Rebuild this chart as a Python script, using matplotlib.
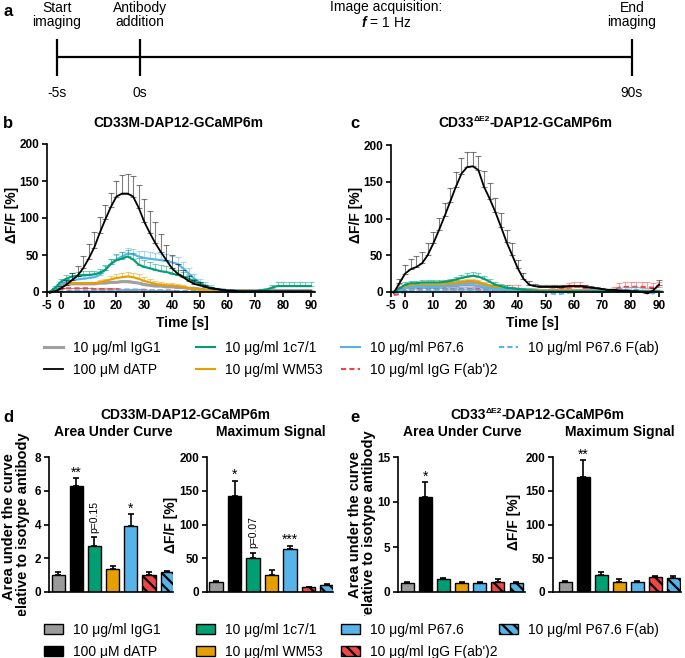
import numpy as np
import matplotlib
matplotlib.use('Agg')
import matplotlib.pyplot as plt
from matplotlib.lines import Line2D
from matplotlib.patches import Patch
from matplotlib.transforms import Bbox

plt.rcParams['font.family'] = ['Liberation Sans', 'DejaVu Sans']
plt.rcParams['font.weight'] = 'bold'
plt.rcParams['hatch.linewidth'] = 1.6
plt.rcParams['axes.unicode_minus'] = False
plt.rcParams['mathtext.fontset'] = 'custom'
plt.rcParams['mathtext.rm'] = 'Liberation Sans'
plt.rcParams['mathtext.bf'] = 'Liberation Sans:bold'
plt.rcParams['mathtext.it'] = 'Liberation Sans:italic'

# ---- data -------------------------------------------------------------
t = np.arange(-4, 91, 2)   # frame times [s]

keys = ['igg1', 'datp', 'c71', 'wm53', 'p676', 'fab2', 'p676fab']
labels = ['10 μg/ml IgG1', '100 μM dATP', '10 μg/ml 1c7/1', '10 μg/ml WM53',
          '10 μg/ml P67.6', "10 μg/ml IgG F(ab')2", '10 μg/ml P67.6 F(ab)']
colors = ['#9a9a9a', '#000000', '#009E73', '#E69F00', '#56B4E9', '#F04646', '#56B4E9']
hatches = [None, None, None, None, None, '\\\\\\', '\\\\\\']

# panel b : CD33M
b_datp = [-1, 1, 5, 10, 16, 22, 32, 45, 60, 80, 98, 115, 129, 133, 133, 129, 114, 95, 80, 66,
          54, 43, 32, 25, 20, 15, 11, 9, 7, 5, 4, 3, 2, 2, 1, 1, 1, 1, 1, 1, 1, 1, 1, 1, 1, 1, 1, 1]
b_datp_err = [1, 2, 3, 6, 10, 13, 16, 20, 21, 21, 20, 19, 21, 25, 27, 28, 30, 31, 30, 28,
              25, 21, 18, 13, 10, 7, 5, 4, 3, 2, 2, 1, 1, 1, 1, 1, 1, 1, 1, 1, 1, 1, 1, 1, 1, 1, 1, 1]
b_c71 = [0, 6, 14, 18, 21, 22, 23, 23, 24, 26, 30, 38, 43, 45, 48, 44, 37, 34, 32, 30,
         28, 27, 25, 23, 21, 18, 14, 11, 8, 5, 4, 2, 2, 1, 1, 1, 1, 1, 2, 3, 6, 8, 8, 8, 8, 8, 8, 8]
b_c71_err = [1, 2, 4, 5, 5, 5, 5, 5, 5, 5, 6, 7, 8, 9, 9, 9, 9, 9, 9, 8,
             8, 8, 7, 7, 6, 5, 4, 3, 2, 2, 1, 1, 1, 1, 1, 1, 1, 1, 2, 3, 4, 5, 5, 5, 5, 5, 5, 5]
b_p676 = [0, 4, 10, 14, 16, 17, 18, 19, 20, 23, 30, 38, 44, 48, 52, 51, 48, 46, 45, 44,
          43, 42, 40, 38, 32, 25, 18, 13, 9, 6, 4, 3, 2, 2, 2, 1, 1, 1, 1, 1, 1, 1, 1, 1, 1, 1, 1, 1]
b_p676_err = [1, 2, 3, 3, 4, 4, 4, 4, 4, 5, 5, 6, 6, 6, 7, 7, 8, 9, 9, 9,
              9, 9, 9, 9, 9, 8, 6, 5, 4, 3, 2, 2, 1, 1, 1, 1, 1, 1, 1, 1, 1, 1, 1, 1, 1, 1, 1, 1]
b_wm53 = [0, 5, 9, 11, 12, 12, 12, 12, 12, 13, 15, 17, 19, 20, 21, 20, 18, 15, 13, 11,
          10, 9, 9, 8, 7, 5, 4, 3, 3, 2, 2, 2, 2, 2, 2, 2, 1, 1, 1, 1, 1, 1, 1, 1, 1, 1, 1, 1]
b_wm53_err = [1, 1, 2, 2, 2, 2, 2, 2, 2, 3, 3, 4, 5, 6, 6, 6, 6, 5, 4, 4,
              3, 3, 3, 3, 3, 2, 2, 1, 1, 1, 1, 1, 1, 1, 1, 1, 1, 1, 1, 1, 1, 1, 1, 1, 1, 1, 1, 1]
b_igg1 = [0, 4, 8, 10, 11, 11, 11, 11, 11, 12, 12, 13, 13, 14, 14, 13, 12, 10, 9, 8,
          8, 7, 7, 6, 6, 5, 5, 4, 3, 3, 3, 2, 2, 2, 2, 2, 2, 2, 2, 2, 2, 2, 2, 2, 2, 2, 2, 2]
b_igg1_err = [1, 1, 1, 2, 2, 2, 2, 2, 2, 2, 2, 2, 2, 2, 2, 2, 2, 2, 2, 2,
              2, 2, 2, 2, 2, 1, 1, 1, 1, 1, 1, 1, 1, 1, 1, 1, 1, 1, 1, 1, 1, 1, 1, 1, 1, 1, 1, 1]
b_fab2 = [0, 2, 4, 5, 5, 5, 5, 5, 4, 4, 4, 4, 4, 3, 3, 3, 3, 3, 2, 2,
          2, 2, 2, 1, 1, 1, 1, 1, 1, 1, 0, 0, 0, 0, 0, 0, 0, 0, 0, 0, 0, 0, 0, 0, 0, 0, 0, 0]
b_fab2_err = [0, 1, 1, 1, 1, 1, 1, 1, 1, 1, 1, 1, 1, 1, 1, 1, 1, 1, 1, 1,
              1, 1, 1, 1, 1, 1, 1, 1, 1, 1, 1, 1, 1, 1, 1, 1, 1, 1, 1, 1, 1, 1, 1, 1, 1, 1, 1, 1]
b_p676fab = [0, 0, 1, 1, 2, 2, 2, 2, 2, 2, 2, 2, 2, 3, 3, 3, 3, 2, 2, 2,
             2, 2, 1, 1, 1, 1, 1, 1, 1, 1, 1, 1, 0, 0, 0, 0, 0, 0, 0, 0, 0, 0, 0, 0, 0, 0, 0, 0]
b_p676fab_err = [0, 1, 1, 1, 1, 1, 1, 1, 1, 1, 1, 1, 1, 1, 1, 1, 1, 1, 1, 1,
                 1, 1, 1, 1, 1, 1, 1, 1, 1, 1, 1, 1, 1, 1, 1, 1, 1, 1, 1, 1, 1, 1, 1, 1, 1, 1, 1, 1]

# panel c : CD33dE2
c_datp = [-1, 12, 25, 31, 34, 39, 50, 66, 84, 103, 123, 143, 161, 170, 171, 166, 143, 127, 109, 89,
          68, 50, 32, 18, 10, 8, 7, 7, 7, 7, 7, 8, 8, 8, 7, 6, 5, 4, 3, 3, 2, 2, 1, 1, 0, -2, 2, 10]
c_datp_err = [1, 6, 12, 14, 15, 16, 16, 16, 17, 18, 19, 20, 21, 20, 20, 19, 22, 21, 19, 18,
              17, 16, 12, 8, 5, 3, 2, 2, 2, 2, 2, 2, 2, 2, 2, 2, 2, 2, 1, 1, 1, 1, 1, 1, 1, 2, 3, 6]
c_c71 = [0, 5, 10, 12, 12, 13, 13, 13, 13, 14, 15, 17, 19, 21, 22, 21, 18, 14, 10, 8,
         6, 5, 4, 3, 2, 2, 1, 1, 1, 1, 1, 1, 1, 1, 1, 1, 1, 1, 1, 1, 1, 1, 1, 1, 1, 1, 1, 1]
c_c71_err = [1, 2, 3, 3, 3, 3, 3, 3, 3, 3, 3, 4, 4, 5, 5, 5, 4, 4, 3, 3,
             3, 2, 2, 2, 2, 1, 1, 1, 1, 1, 1, 1, 1, 1, 1, 1, 1, 1, 1, 1, 1, 1, 1, 1, 1, 1, 1, 1]
c_wm53 = [0, 4, 8, 9, 10, 10, 10, 10, 10, 11, 12, 13, 14, 15, 15, 14, 11, 9, 7, 6,
          5, 4, 3, 3, 2, 2, 2, 2, 2, 2, 2, 2, 2, 2, 1, 1, 1, 1, 1, 1, 1, 1, 1, 1, 1, 1, 1, 1]
c_wm53_err = [1, 1, 2, 2, 2, 2, 2, 2, 2, 2, 2, 2, 3, 3, 3, 3, 2, 2, 2, 2,
              1, 1, 1, 1, 1, 1, 1, 1, 1, 1, 1, 1, 1, 1, 1, 1, 1, 1, 1, 1, 1, 1, 1, 1, 1, 1, 1, 1]
c_igg1 = [0, 4, 7, 8, 9, 9, 9, 9, 9, 10, 10, 11, 12, 12, 13, 12, 10, 8, 7, 6,
          5, 4, 4, 3, 3, 3, 2, 2, 2, 2, 2, 2, 2, 2, 2, 2, 2, 1, 1, 1, 1, 1, 1, 1, 1, 1, 1, 1]
c_igg1_err = [1, 1, 1, 1, 2, 2, 2, 2, 2, 2, 2, 2, 2, 2, 2, 2, 2, 2, 2, 2,
              1, 1, 1, 1, 1, 1, 1, 1, 1, 1, 1, 1, 1, 1, 1, 1, 1, 1, 1, 1, 1, 1, 1, 1, 1, 1, 1, 1]
c_p676 = [0, 2, 5, 6, 7, 7, 7, 7, 7, 8, 8, 8, 9, 9, 9, 8, 6, 5, 4, 3,
          3, 2, 2, 2, 1, 1, 1, 1, 1, 0, 0, 0, 1, 1, 1, 1, 1, 1, 1, 1, 1, 1, 1, 1, 1, 1, 1, 1]
c_p676_err = [1, 1, 2, 2, 2, 2, 2, 2, 2, 2, 2, 2, 2, 2, 2, 2, 2, 2, 2, 2,
              1, 1, 1, 1, 1, 1, 1, 1, 1, 1, 1, 1, 1, 1, 1, 1, 1, 1, 1, 1, 1, 1, 1, 1, 1, 1, 1, 1]
c_fab2 = [-4, -3, 3, 5, 5, 5, 5, 5, 5, 5, 4, 4, 4, 4, 4, 4, 3, 3, 3, 3,
          3, 3, 3, 2, 2, 1, 1, 1, 2, 3, 5, 6, 7, 7, 5, 3, 2, 2, 2, 3, 6, 7, 7, 7, 7, 6, 6, 7]
c_fab2_err = [2, 14, 6, 4, 3, 3, 3, 3, 3, 3, 3, 3, 3, 3, 3, 3, 3, 4, 5, 6,
              7, 7, 6, 4, 3, 2, 2, 2, 3, 4, 5, 6, 6, 6, 5, 4, 3, 2, 2, 4, 6, 7, 7, 7, 7, 7, 6, 6]
c_p676fab = [0, -3, 1, 2, 2, 3, 3, 3, 3, 3, 3, 3, 3, 3, 3, 2, 2, 2, 1, 1,
             1, 1, 1, 1, 0, 0, 0, -1, -2, -3, -2, -1, 0, 0, 1, 1, 1, 1, 1, 1, 2, 3, 3, 3, 2, 0, -2, 1]
c_p676fab_err = [1, 2, 2, 2, 2, 2, 2, 2, 2, 2, 2, 2, 2, 2, 2, 2, 2, 2, 2, 2,
                 2, 2, 2, 2, 2, 2, 2, 2, 2, 2, 2, 2, 2, 2, 2, 2, 2, 2, 2, 2, 3, 4, 4, 4, 4, 3, 3, 2]

# bar panels (order = keys)
d_auc = [1.02, 6.3, 2.74, 1.34, 3.94, 1.02, 1.2]
d_auc_err = [0.14, 0.46, 0.5, 0.2, 0.66, 0.14, 0.06]
d_max = [15, 142, 50, 25, 63.5, 7, 10]
d_max_err = [1.5, 23, 8.5, 7, 5, 0.5, 1.4]
e_auc = [1.05, 10.6, 1.4, 1.05, 1.05, 1.1, 0.95]
e_auc_err = [0.05, 1.6, 0.15, 0.08, 0.08, 0.3, 0.12]
e_max = [15, 171, 25, 15.5, 15.5, 21.5, 21]
e_max_err = [1, 24, 5, 3.5, 1.5, 2.5, 2.5]

# ---- figure -----------------------------------------------------------
W, H = 685, 658
fig = plt.figure(figsize=(W / 100, H / 100), dpi=100)


def box(x0, y0, x1, y1):
    # pixel box, y measured from top
    return fig.add_axes([x0 / W, 1 - y1 / H, (x1 - x0) / W, (y1 - y0) / H])


def ftext(x, y, s, **kw):
    return fig.text(x / W, 1 - y / H, s, **kw)


def style_axis(ax):
    for s in ['top', 'right']:
        ax.spines[s].set_visible(False)
    for s in ['left', 'bottom']:
        ax.spines[s].set_linewidth(1.2)
    ax.tick_params(direction='out', length=3.5, width=1.2, labelsize=8.5, pad=2)


def sup_title(ax, x, y):
    # "CD33" + superscript "ΔE2" + rest, chained on each other's bboxes
    t1 = ftext(x, y, 'CD33', ha='left', va='center', fontsize=10)
    t2 = ax.annotate('ΔE2', xy=(1, 0.98), xycoords=t1, ha='left', va='top', fontsize=6,
                     annotation_clip=False)
    ax.annotate('-DAP12-GCaMP6m', xy=(1, 0), xycoords=(t2, t1), ha='left', va='bottom',
                fontsize=10, annotation_clip=False)


# panel a: timeline
ax_a = box(0, 0, W, 110)
ax_a.set_xlim(0, W)
ax_a.set_ylim(110, 0)
ax_a.axis('off')
tl_x = [57, 140, 632]
tl_lab = ['-5s', '0s', '90s']
tl_top = ['Start\nimaging', 'Antibody\naddition', 'End\nimaging']
ax_a.plot([tl_x[0], tl_x[-1]], [57, 57], color='black', lw=1.6, solid_capstyle='butt')
for x, lab, top in zip(tl_x, tl_lab, tl_top):
    ax_a.plot([x, x], [39, 76], color='black', lw=1.6, solid_capstyle='butt')
    ax_a.text(x, 93, lab, ha='center', va='center', fontsize=10, fontweight='normal')
    ax_a.text(x, 15, top, ha='center', va='center', fontsize=10, fontweight='normal', linespacing=1.05)
ax_a.text(386, 15, 'Image acquisition:\n$\\mathit{f}$ = 1 Hz', ha='center', va='center',
          fontsize=10, fontweight='normal', linespacing=1.05)
ftext(3, 11, 'a', fontsize=12, va='center')

# panels b, c: traces
b_data = {'igg1': (b_igg1, b_igg1_err), 'datp': (b_datp, b_datp_err), 'c71': (b_c71, b_c71_err),
          'wm53': (b_wm53, b_wm53_err), 'p676': (b_p676, b_p676_err), 'fab2': (b_fab2, b_fab2_err),
          'p676fab': (b_p676fab, b_p676fab_err)}
c_data = {'igg1': (c_igg1, c_igg1_err), 'datp': (c_datp, c_datp_err), 'c71': (c_c71, c_c71_err),
          'wm53': (c_wm53, c_wm53_err), 'p676': (c_p676, c_p676_err), 'fab2': (c_fab2, c_fab2_err),
          'p676fab': (c_p676fab, c_p676fab_err)}
line_style = {'igg1': ('#a0a0a0', 2.2, '-'), 'datp': ('black', 1.3, '-'), 'c71': ('#009E73', 1.5, '-'),
              'wm53': ('#E69F00', 1.5, '-'), 'p676': ('#56B4E9', 1.5, '-'),
              'fab2': ('#F04646', 1.5, (0, (2.5, 1.5))), 'p676fab': ('#56B4E9', 1.5, (0, (2.5, 1.5)))}
draw_order = ['fab2', 'p676fab', 'igg1', 'wm53', 'p676', 'c71', 'datp']


def traces(ax, data):
    for k in draw_order:
        m, e = data[k]
        col, lw, ls = line_style[k]
        ax.errorbar(t, m, yerr=[np.zeros(len(t)), e], fmt='none', ecolor=col, alpha=0.5,
                    elinewidth=0.8, capsize=2, capthick=0.8)
        ax.plot(t, m, color=col, lw=lw, ls=ls, clip_on=False)
    style_axis(ax)
    ax.set_xlim(-5, 91.5)
    ax.set_ylim(0, 200)
    ax.set_xticks([-5, 0, 10, 20, 30, 40, 50, 60, 70, 80, 90])
    ax.set_yticks([0, 50, 100, 150, 200])


ax_b = box(47, 144, 315, 292)
traces(ax_b, b_data)
ax_c = box(391, 145, 663, 292)
traces(ax_c, c_data)

ftext(3, 123, 'b', fontsize=12, va='center')
ftext(350, 123, 'c', fontsize=12, va='center')
ftext(178, 123, 'CD33M-DAP12-GCaMP6m', ha='center', va='center', fontsize=10)
sup_title(ax_c, 438, 123)
ftext(12, 215, 'ΔF/F [%]', rotation=90, ha='center', va='center', fontsize=10)
ftext(356, 215, 'ΔF/F [%]', rotation=90, ha='center', va='center', fontsize=10)
ftext(182, 323, 'Time [s]', ha='center', va='center', fontsize=10)
ftext(532, 323, 'Time [s]', ha='center', va='center', fontsize=10)

# legend for traces
line_handles = [Line2D([], [], color=line_style[k][0], lw=line_style[k][1], ls=line_style[k][2]) for k in keys]
patch_handles = [Patch(facecolor=c, edgecolor='black', hatch=h, lw=1) for c, h in zip(colors, hatches)]
col_x = [44, 196, 341, 499]
groups = [[0, 1], [2, 3], [4, 5], [6]]


def column_legends(handles, y_top):
    for x, g in zip(col_x, groups):
        fig.legend([handles[i] for i in g], [labels[i] for i in g], loc='upper left',
                   bbox_to_anchor=(x / W, 1 - y_top / H), frameon=False, borderpad=0,
                   borderaxespad=0, handlelength=1.4, handletextpad=0.7, labelspacing=0.55,
                   prop={'size': 10, 'weight': 'normal'})


column_legends(line_handles, 341)


# panels d, e: bars
def bars(ax, vals, errs, xlim, ylim, yticks):
    x = np.arange(len(vals))
    ax.bar(x, vals, width=0.72, color=colors, edgecolor='black', lw=1, hatch=hatches)
    ax.errorbar(x, vals, yerr=[np.zeros(len(vals)), errs], fmt='none', ecolor='black',
                elinewidth=1.2, capsize=2.5, capthick=1.2)
    style_axis(ax)
    ax.set_xlim(*xlim)
    ax.set_ylim(*ylim)
    ax.set_xticks([])
    ax.set_yticks(yticks)
    return x


def mark(ax, x, top, s, rot=0, size=10, dy=-1):
    ax.annotate(s, (x, top), xytext=(0, dy), textcoords='offset points', ha='center',
                va='bottom', fontsize=size, fontweight='normal', rotation=rot)


ax_da = box(49, 457, 173, 592)
bars(ax_da, d_auc, d_auc_err, (-0.5, 6.32), (0, 8), [0, 2, 4, 6, 8])
ax_dm = box(207, 457, 333, 592)
bars(ax_dm, d_max, d_max_err, (-0.49, 6.32), (0, 200), [0, 50, 100, 150, 200])
ax_ea = box(398, 457, 525, 592)
bars(ax_ea, e_auc, e_auc_err, (-0.5, 6.49), (0, 15), [0, 5, 10, 15])
ax_em = box(553, 457, 681, 592)
bars(ax_em, e_max, e_max_err, (-0.67, 6.44), (0, 200), [0, 50, 100, 150, 200])

mark(ax_da, 1, d_auc[1] + d_auc_err[1], '**')
mark(ax_da, 2, d_auc[2] + d_auc_err[2], 'p=0.15', rot=90, size=7.5, dy=3)
mark(ax_da, 4, d_auc[4] + d_auc_err[4], '*')
mark(ax_dm, 1, d_max[1] + d_max_err[1], '*')
mark(ax_dm, 2, d_max[2] + d_max_err[2], 'p=0.07', rot=90, size=7.5, dy=3)
mark(ax_dm, 4, d_max[4] + d_max_err[4], '***')
mark(ax_ea, 1, e_auc[1] + e_auc_err[1], '*')
mark(ax_em, 1, e_max[1] + e_max_err[1], '**')

ftext(3, 418, 'd', fontsize=12, va='center')
ftext(350, 418, 'e', fontsize=12, va='center')
ftext(185, 415, 'CD33M-DAP12-GCaMP6m', ha='center', va='center', fontsize=10)
sup_title(ax_ea, 450, 415)
for x in [113, 462]:
    ftext(x, 432, 'Area Under Curve', ha='center', va='center', fontsize=10)
for x in [271, 620]:
    ftext(x, 432, 'Maximum Signal', ha='center', va='center', fontsize=10)

# the y label is cut at its lower end in the source figure
clip = Bbox.from_extents(0, H - 616, W, H)
for x, y in [(16, 527), (362, 525)]:
    lab = ftext(x, y, 'Area under the curve\nrelative to isotype antibody', rotation=90,
                ha='center', va='center', multialignment='center', fontsize=10.5, linespacing=0.92)
    lab.set_clip_box(clip)
    lab.set_clip_on(True)
ftext(171, 525, 'ΔF/F [%]', rotation=90, ha='center', va='center', fontsize=10)
ftext(514, 522, 'ΔF/F [%]', rotation=90, ha='center', va='center', fontsize=10)

column_legends(patch_handles, 623)

fig.savefig('out.png', dpi=100)
